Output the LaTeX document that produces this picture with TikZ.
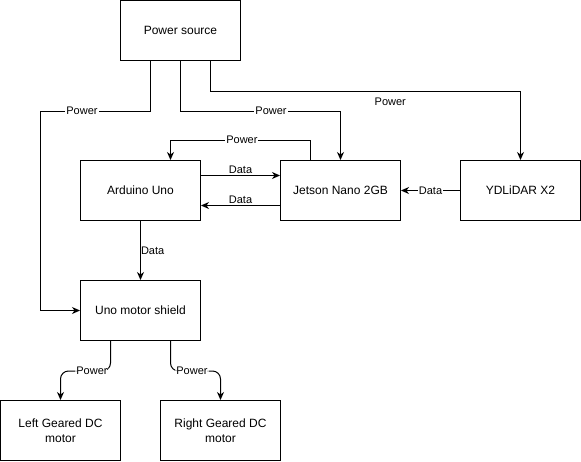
\documentclass[tikz,border=0pt]{standalone}
\usepackage{fontspec}
\setmainfont{Liberation Sans}
\usetikzlibrary{arrows.meta}
\tikzset{
  caja/.style={draw, line width=1pt, minimum width=120pt, minimum height=60pt, inner sep=0pt, align=center, font=\fontsize{12pt}{15pt}\selectfont},
  flecha/.style={draw, line width=1pt, -{Stealth[length=8pt,width=7pt,inset=2.5pt]}},
  etiqueta/.style={fill=white, inner sep=1pt, font=\fontsize{11pt}{13pt}\selectfont},
}

\begin{document}
\begin{tikzpicture}[x=1pt,y=-1pt]
        \useasboundingbox (0,0) rectangle (581,461);
        % bloques
        \node[caja] (fuente) at (180.5,30.5) {Power source};
        \node[caja] (arduino) at (140.5,190.5) {Arduino Uno};
        \node[caja] (jetson) at (340.5,190.5) {Jetson Nano 2GB};
        \node[caja] (lidar) at (520.5,190.5) {YDLiDAR X2};
        \node[caja] (escudo) at (140.5,310.5) {Uno motor shield};
        \node[caja] (motorizq) at (60.5,430.5) {Left Geared DC\\motor};
        \node[caja] (motorder) at (220.5,430.5) {Right Geared DC\\motor};
        % alimentacion
        \draw[flecha] ([xshift=-30pt]fuente.south) -- ++(0,50) -| node[etiqueta,pos=0.31]{Power} ([xshift=-40pt]escudo.west) -- (escudo.west);
        \draw[flecha] (fuente.south) -- ++(0,50) -| node[etiqueta,pos=0.283]{Power} (jetson.north);
        \draw[flecha] ([xshift=30pt]fuente.south) -- ++(0,30) -| node[etiqueta,fill=none,pos=0.29,yshift=-10.5pt]{Power} (lidar.north);
        \draw[flecha] ([xshift=-30pt]jetson.north) -- ++(0,-20) -| node[etiqueta,pos=0.245]{Power} ([xshift=30pt]arduino.north);
        \draw[flecha,rounded corners=8pt] ([xshift=-30pt]escudo.south) -- ++(0,30) -| node[etiqueta,pos=0.185]{Power} (motorizq.north);
        \draw[flecha,rounded corners=8pt] ([xshift=30pt]escudo.south) -- ++(0,30) -| node[etiqueta,pos=0.215]{Power} (motorder.north);
        % datos
        \draw[flecha] ([yshift=15pt]arduino.east) -- node[etiqueta,fill=none,above,inner sep=1pt]{Data} ([yshift=15pt]jetson.west);
        \draw[flecha] ([yshift=-15pt]jetson.west) -- node[etiqueta,fill=none,above,inner sep=1pt]{Data} ([yshift=-15pt]arduino.east);
        \draw[flecha] (lidar.west) -- node[etiqueta]{Data} (jetson.east);
        \draw[flecha] (arduino.south) -- node[etiqueta,fill=none,right,inner sep=0pt]{Data} (escudo.north);
\end{tikzpicture}
\end{document}
